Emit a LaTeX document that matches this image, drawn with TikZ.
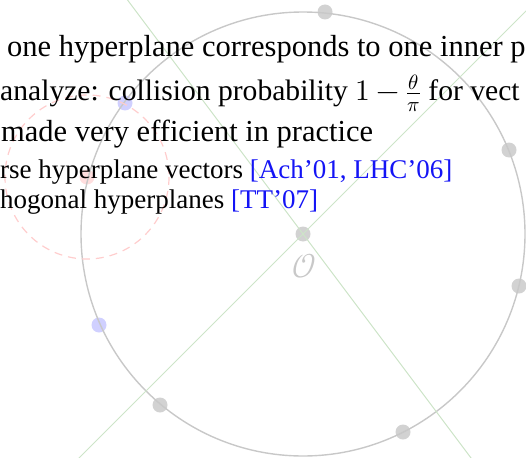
\documentclass[tikz,border=0pt]{standalone}
\usepackage{fontspec}
\usepackage{unicode-math}
\setmainfont{Liberation Serif}
\setmathfont{Latin Modern Math}
\definecolor{ringgray}{RGB}{200,200,200}
\definecolor{dotgray}{RGB}{210,210,210}
\definecolor{dotblue}{RGB}{208,208,255}
\definecolor{dotred}{RGB}{255,222,222}
\definecolor{dashred}{RGB}{255,205,205}
\definecolor{planegreen}{RGB}{205,228,200}
\definecolor{citeblue}{RGB}{20,20,245}
\begin{document}
\begin{tikzpicture}[x=1pt,y=-1pt,
  ring/.style={draw=ringgray,line width=1.4pt},
  plane/.style={draw=planegreen,line width=1pt},
  gdot/.style={circle,fill=dotgray,inner sep=0pt,minimum size=15pt},
  bdot/.style={circle,fill=dotblue,inner sep=0pt,minimum size=15pt},
  rdot/.style={circle,fill=dotred,inner sep=0pt,minimum size=15pt},
  ballstyle/.style={draw=dashred,line width=1.2pt,dash pattern=on 8pt off 6pt},
  bigtext/.style={anchor=base west,inner sep=0pt,font=\fontsize{30.5}{36}\selectfont},
  smalltext/.style={anchor=base west,inner sep=0pt,font=\fontsize{27}{32}\selectfont}]
\useasboundingbox (0,0) rectangle (526,457);
\clip (0,0) rectangle (526,457);
% dots
\node[gdot] (O) at (303,234) {};
\node[gdot] (d1) at (325,12) {};
\node[gdot] (d2) at (509,150) {};
\node[gdot] (d3) at (519,286) {};
\node[gdot] (d4) at (403,432) {};
\node[gdot] (d5) at (160,405) {};
\node[bdot] (b1) at (125,103) {};
\node[bdot] (b2) at (99,325) {};
\node[rdot] (r1) at (87,177) {};
% circles
\draw[ring] (O.center) circle[radius=222];
\draw[ballstyle] (r1.center) circle[radius=82];
% hyperplanes
\coordinate (h1a) at (123,-6);
\coordinate (h1b) at (483,474);
\coordinate (h2a) at (530,7);
\coordinate (h2b) at (76,461);
\draw[plane] (h1a) -- (O.center) -- (h1b);
\draw[plane] (h2a) -- (O.center) -- (h2b);
% origin label
\node[text=ringgray,inner sep=0pt] (Olab) at (304,266) {\fontsize{34}{34}\selectfont$\mathcal{O}$};
% text
\node[bigtext] (t1) at (7,57) {one hyperplane corresponds to one inner p};
\node[bigtext,font=\fontsize{29.6}{36}\selectfont] (t2) at (0,101) {analyze: collision probability $1-\frac{\theta}{\pi}$ for vect};
\node[bigtext] (t3) at (1,142) {made very efficient in practice};
\node[smalltext] (t4) at (0,178) {rse hyperplane vectors \textcolor{citeblue}{[Ach’01, LHC’06]}};
\node[smalltext] (t5) at (0,208) {hogonal hyperplanes \textcolor{citeblue}{[TT’07]}};
\end{tikzpicture}
\end{document}
